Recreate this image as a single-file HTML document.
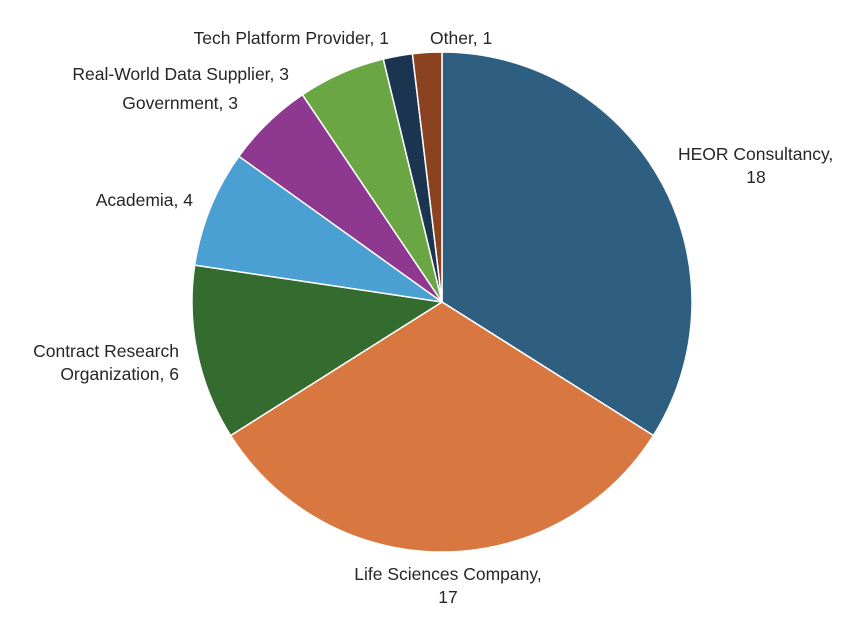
<!DOCTYPE html>
<html><head><meta charset="utf-8"><style>
html,body{margin:0;padding:0;background:#fff;}
svg{display:block;}
text{font-family:"Liberation Sans",sans-serif;font-size:17.5px;fill:#262626;}
</style></head><body>
<svg width="864" height="620" viewBox="0 0 864 620">
<g stroke="#fff" stroke-width="1.5" stroke-linejoin="round">
<path d="M442,302 L442,52 A250,250 0 0 1 653.4,435.5 Z" fill="#2E5F80"/>
<path d="M442,302 L653.4,435.5 A250,250 0 0 1 230.6,435.5 Z" fill="#D97741"/>
<path d="M442,302 L230.6,435.5 A250,250 0 0 1 194.7,265.1 Z" fill="#346B2E"/>
<path d="M442,302 L194.7,265.1 A250,250 0 0 1 238.9,156.3 Z" fill="#4A9FD3"/>
<path d="M442,302 L238.9,156.3 A250,250 0 0 1 302.4,94.7 Z" fill="#8E388F"/>
<path d="M442,302 L302.4,94.7 A250,250 0 0 1 383.3,59.0 Z" fill="#6AA744"/>
<path d="M442,302 L383.3,59.0 A250,250 0 0 1 412.4,53.7 Z" fill="#1B3550"/>
<path d="M442,302 L412.4,53.7 A250,250 0 0 1 442,52 Z" fill="#8B4220"/>
</g>
<text x="678" y="160">HEOR Consultancy,</text>
<text x="756" y="183" text-anchor="middle">18</text>
<text x="448" y="580" text-anchor="middle">Life Sciences Company,</text>
<text x="448" y="603" text-anchor="middle">17</text>
<text x="179" y="357" text-anchor="end">Contract Research</text>
<text x="179" y="380" text-anchor="end">Organization, 6</text>
<text x="193" y="206" text-anchor="end">Academia, 4</text>
<text x="238" y="109" text-anchor="end">Government, 3</text>
<text x="289" y="80" text-anchor="end">Real-World Data Supplier, 3</text>
<text x="389" y="44" text-anchor="end">Tech Platform Provider, 1</text>
<text x="430" y="44">Other, 1</text>
</svg>
</body></html>
